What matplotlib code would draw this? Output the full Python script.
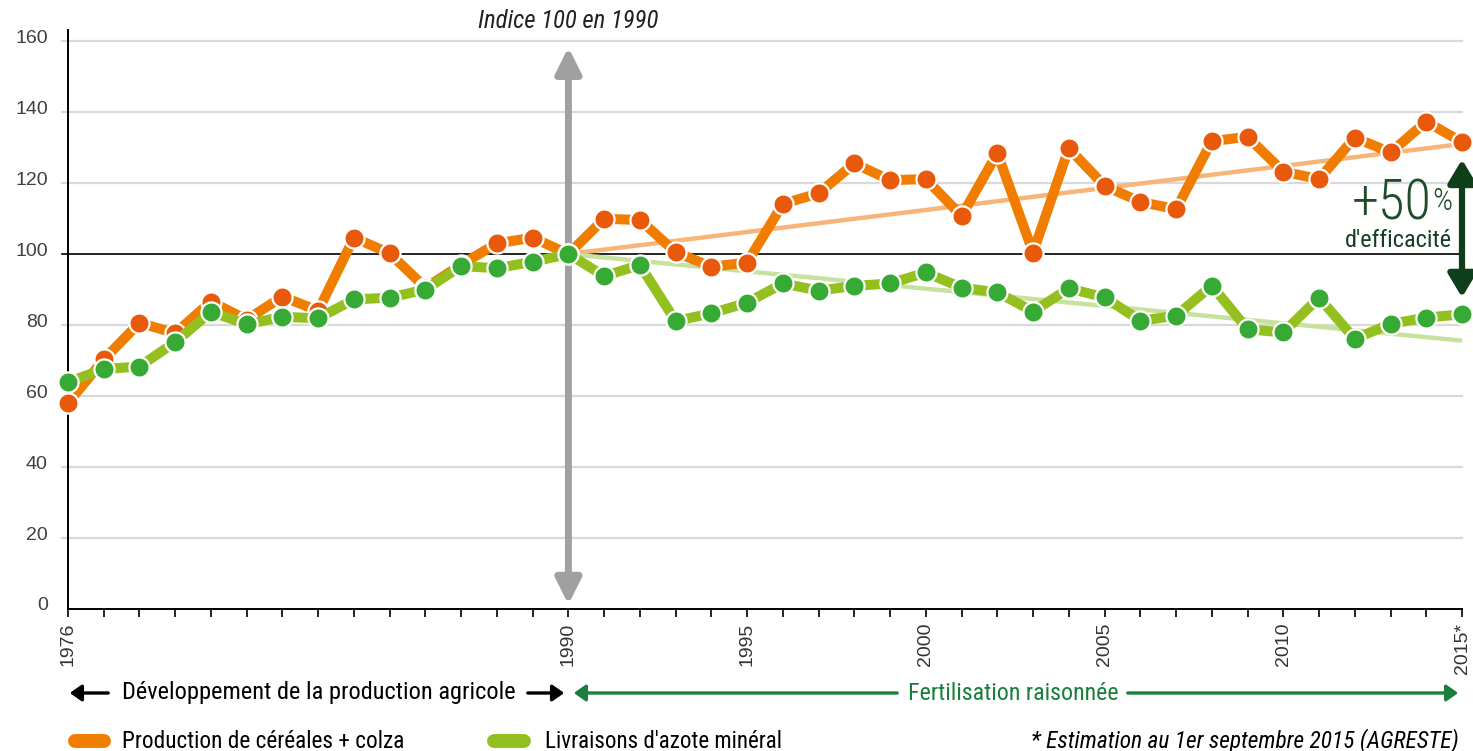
import matplotlib
matplotlib.use("Agg")
import matplotlib.pyplot as plt
import matplotlib.transforms as mtransforms
from matplotlib import font_manager
from matplotlib.font_manager import FontProperties
from matplotlib.patches import FancyArrowPatch
from matplotlib.lines import Line2D

years = list(range(1976, 2016))
production = [58.0, 70.3, 80.6, 77.7, 86.6, 81.5, 88.0, 84.0, 104.6, 100.2,
              90.5, 97.0, 103.0, 104.6, 100.0, 109.9, 109.6, 100.5, 96.4, 97.6,
              114.1, 117.1, 125.5, 120.8, 121.1, 110.7, 128.4, 100.4, 129.8, 119.2,
              114.7, 112.6, 131.8, 133.0, 123.2, 121.1, 132.8, 128.6, 137.3, 131.5]
azote = [63.9, 67.6, 68.3, 75.2, 83.7, 80.2, 82.3, 81.9, 87.2, 87.7,
         90.0, 96.6, 96.0, 97.8, 100.0, 93.8, 96.9, 81.1, 83.3, 86.3,
         91.7, 89.7, 91.0, 91.7, 94.8, 90.5, 89.2, 83.8, 90.3, 87.8,
         81.2, 82.6, 91.1, 78.8, 77.9, 87.7, 76.1, 80.3, 82.1, 83.0]

trend_years = [1990, 2015]
trend_production = [100, 131.0]
trend_azote = [100, 75.6]

ytick_values = [0, 20, 40, 60, 80, 100, 120, 140, 160]
xtick_values = [1976, 1990, 1995, 2000, 2005, 2010, 2015]
xtick_labels = ['1976', '1990', '1995', '2000', '2005', '2010', '2015*']

ORANGE = '#f07d00'
ORANGE_DOT = '#e8590c'
GREEN = '#93c01f'
GREEN_DOT = '#37a935'
DARK_GREEN = '#0e3f1a'
TEXT_GREEN = '#1a7f3c'


def weight_num(w):
    if isinstance(w, int):
        return w
    return font_manager.weight_dict.get(w, 400)


def narrow_font(style, weight=400):
    # look for a condensed sans font, else plain Liberation Sans
    prefs = ['liberation sans narrow', 'roboto condensed', 'noto sans', 'open sans', 'dejavu sans']
    found = []
    for f in font_manager.fontManager.ttflist:
        name = f.name.lower()
        if f.style != style or weight_num(f.weight) != weight:
            continue
        if 'mono' in name or 'serif' in name or 'cjk' in name:
            continue
        if 'condensed' in str(f.stretch) or 'narrow' in name or 'condensed' in name:
            if 'extra' in str(f.stretch) or 'ultra' in str(f.stretch):
                continue
            rank = len(prefs)
            for i, p in enumerate(prefs):
                if name.startswith(p):
                    rank = i
                    break
            found.append((rank, f.fname))
    if found:
        found.sort()
        return FontProperties(fname=found[0][1])
    if weight != 400:
        return narrow_font(style)
    return FontProperties(family='Liberation Sans', style=style)


fp_reg = narrow_font('normal')
fp_it = narrow_font('italic')
fp_light = narrow_font('normal', 300)

fig = plt.figure(figsize=(14.73, 7.51), dpi=100)
W, H = 1473, 751
renderer = fig.canvas.get_renderer()


def fit(t, width_px):
    t.set_fontsize(20)
    w = t.get_window_extent(renderer).width
    t.set_fontsize(20 * width_px / w)


ax = fig.add_axes([68 / W, (H - 609) / H, (1462 - 68) / W, 579 / H])
ax.set_xlim(1976, 2015)
ax.set_ylim(0, 163.1)

# grid
for v in ytick_values[1:]:
    if v == 100:
        continue
    ax.plot([1975.83, 2015], [v, v], color='#d9d9d9', lw=1.6, zorder=0, clip_on=False)
ax.plot([1975.83, 2015], [100, 100], color='black', lw=1.2, zorder=1, clip_on=False)

for s in ['top', 'right']:
    ax.spines[s].set_visible(False)
ax.spines['left'].set_linewidth(1.4)
ax.spines['bottom'].set_linewidth(1.4)

ax.set_yticks(ytick_values)
ax.set_yticklabels([str(v) for v in ytick_values])
ax.tick_params(axis='y', length=0, pad=14.5, labelsize=14, labelcolor='#404040')
offset = mtransforms.ScaledTranslation(0, 5 / 100, fig.dpi_scale_trans)
for lbl in ax.get_yticklabels():
    lbl.set_transform(lbl.get_transform() + offset)
    lbl.set_family(['Liberation Sans', 'DejaVu Sans'])

ax.set_xticks(years, minor=True)
ax.set_xticks(xtick_values)
ax.set_xticklabels(xtick_labels, rotation=90, va='top', ha='center')
ax.tick_params(axis='x', which='both', length=6, width=1.2, direction='out')
ax.tick_params(axis='x', which='major', pad=4, labelsize=14, labelcolor='#333333')
for lbl in ax.get_xticklabels():
    lbl.set_family(['Liberation Sans', 'DejaVu Sans'])

# grey 1990 arrow
grey_arrow = FancyArrowPatch((1990, 0.5), (1990, 159), arrowstyle='<|-|>,head_length=1.1,head_width=0.55',
                             mutation_scale=14, color='#a0a0a0', lw=5, zorder=2, clip_on=False)
ax.add_patch(grey_arrow)

# trends
ax.plot(trend_years, trend_production, color='#f7b57a', lw=3.2, zorder=3, solid_capstyle='butt')
ax.plot(trend_years, trend_azote, color='#c6e29c', lw=3.2, zorder=3, solid_capstyle='butt')

# series
ax.plot(years, production, color=ORANGE, lw=7.2, marker='o', ms=14.5, mfc=ORANGE_DOT,
        mec='white', mew=1.6, zorder=4, clip_on=False, solid_joinstyle='round')
ax.plot(years, azote, color=GREEN, lw=7.2, marker='o', ms=14.5, mfc=GREEN_DOT,
        mec='white', mew=1.6, zorder=5, clip_on=False, solid_joinstyle='round')

# efficiency arrow
eff_arrow = FancyArrowPatch((2015, 87.0), (2015, 127.4), arrowstyle='<|-|>,head_length=1.0,head_width=0.6',
                            mutation_scale=14, color=DARK_GREEN, lw=4.5, zorder=6, clip_on=False)
ax.add_patch(eff_arrow)

px = mtransforms.offset_copy
t50 = ax.text(2015, 109.8, '+50', transform=px(ax.transData, fig=fig, x=-30, y=0, units='dots'),
              ha='right', va='baseline', color='#1f4d2b', fontproperties=fp_light)
fit(t50, 80)
tpc = ax.text(2015, 119.0, '%', transform=px(ax.transData, fig=fig, x=-10, y=0, units='dots'),
              ha='right', va='top', color='#1f4d2b', fontproperties=fp_light)
fit(tpc, 20)
teff = ax.text(2015, 102.0, "d'efficacit\u00e9", transform=px(ax.transData, fig=fig, x=-10, y=0, units='dots'),
               ha='right', va='baseline', color='#163f26', fontproperties=fp_reg)
fit(teff, 107)

# top label
ttop = fig.text(568 / W, (H - 21) / H, 'Indice 100 en 1990', ha='center', va='center',
                color='#222222', fontproperties=fp_it)
fit(ttop, 181)

# period annotations
yb = (H - 693) / H


def fig_arrow(x0, x1, color, lw=2.4):
    a = FancyArrowPatch((x0 / W, yb), (x1 / W, yb), transform=fig.transFigure,
                        arrowstyle='-|>,head_length=0.5,head_width=0.35', mutation_scale=14,
                        color=color, lw=lw)
    fig.add_artist(a)


fig_arrow(111, 67, 'black')
fig_arrow(525, 567, 'black')
fig_arrow(900, 571, TEXT_GREEN)
fig_arrow(1125, 1461, TEXT_GREEN)
t1 = fig.text(122 / W, yb, 'D\u00e9veloppement de la production agricole', ha='left', va='center',
              color='black', fontproperties=fp_reg)
fit(t1, 392)
t2 = fig.text(1013 / W, yb, 'Fertilisation raisonn\u00e9e', ha='center', va='center',
              color=TEXT_GREEN, fontproperties=fp_reg)
fit(t2, 210)

# legend row
yl = (H - 741) / H
fig.add_artist(Line2D([75 / W, 104 / W], [yl, yl], transform=fig.transFigure, color=ORANGE,
                      lw=10, solid_capstyle='round'))
fig.add_artist(Line2D([494 / W, 524 / W], [yl, yl], transform=fig.transFigure, color=GREEN,
                      lw=10, solid_capstyle='round'))
t3 = fig.text(122 / W, yl, 'Production de c\u00e9r\u00e9ales + colza', ha='left', va='center',
              color='black', fontproperties=fp_reg)
fit(t3, 282)
t4 = fig.text(545 / W, yl, "Livraisons d'azote min\u00e9ral", ha='left', va='center',
              color='black', fontproperties=fp_reg)
fit(t4, 237)
t5 = fig.text(1459 / W, yl, '* Estimation au 1er septembre 2015 (AGRESTE)', ha='right', va='center',
              color='black', fontproperties=fp_it)
fit(t5, 426)

fig.savefig('out.png', dpi=100)
